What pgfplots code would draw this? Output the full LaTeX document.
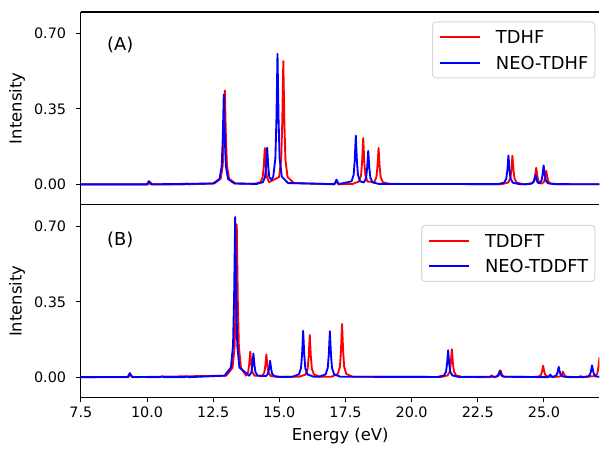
\documentclass[border=0pt]{standalone}
\usepackage{pgfplots}
\pgfplotsset{compat=1.18}
\usepackage{fontspec}
\setmainfont{DejaVu Sans}
\begin{document}
\begin{tikzpicture}
\pgfplotsset{
  myax/.style={
    scale only axis, width=389.25pt, height=144.75pt,
    xmin=7.5, xmax=27.1, ymin=-0.095, ymax=0.8,
    axis x line*=box, axis y line*=left,
    axis line style={-, line width=0.8pt, black},
    every outer x axis line/.append style={-},
    every outer y axis line/.append style={-},
    tick align=outside, xtick pos=bottom, ytick pos=left,
    major tick length=3.6pt,
    every tick/.style={black, line width=0.8pt},
    ytick={0,0.35,0.70},
    yticklabel style={font=\fontsize{10.8}{13}\selectfont, xshift=-4pt, /pgf/number format/.cd, fixed, fixed zerofill, precision=2, assume math mode=true},
    xticklabel style={font=\fontsize{10.8}{13}\selectfont, /pgf/number format/.cd, fixed, fixed zerofill, precision=1, assume math mode=true},
    ylabel={Intensity},
    every axis y label/.style={at={(axis description cs:-0.1233,0.5)}, rotate=90, anchor=center, font=\fontsize{12.3}{14}\selectfont},
    legend cell align=left,
    legend image code/.code={\draw[##1, line width=1.5pt] (0pt,0pt) -- (30pt,0pt);},
    legend style={at={(rel axis cs:1,1)}, anchor=north east, xshift=-3pt, yshift=-7pt,
      draw=black!15, line width=0.8pt, rounded corners=2.5pt, fill=white,
      font=\fontsize{13.4}{16}\selectfont, inner xsep=5pt, inner ysep=6.5pt, row sep=9.5pt,
      nodes={inner sep=0pt, text height=9.8pt, text depth=0pt},
      /tikz/every odd column/.append style={column sep=11pt}},
    every axis plot/.append style={line width=1.4pt, line join=round},
  }
}
\begin{axis}[myax, name=top, at={(0,144.75pt)}, anchor=south west, xtick=\empty]
\addplot[red] coordinates {(7.0,0) (10.04,0) (10.08,0.005) (10.12,0.010) (10.16,0.005) (10.20,0)
(11.41,0) (11.49,0.004) (11.57,0)
(12.54,0.004) (12.78,0.026) (12.86,0.087) (12.90,0.218) (12.94,0.436) (12.98,0.218) (13.02,0.087) (13.10,0.026) (13.34,0.004)
(14.05,0.002) (14.29,0.010) (14.37,0.034) (14.41,0.084) (14.45,0.168) (14.49,0.084) (14.53,0.034) (14.61,0.010)
(14.99,0.034) (15.07,0.114) (15.11,0.286) (15.15,0.572) (15.19,0.286) (15.23,0.114) (15.31,0.034) (15.55,0.006)
(17.08,0) (17.12,0.007) (17.16,0.015) (17.20,0.007) (17.24,0)
(17.77,0.002) (18.01,0.013) (18.09,0.043) (18.13,0.108) (18.17,0.215) (18.21,0.108) (18.25,0.043) (18.33,0.013)
(18.59,0.010) (18.67,0.034) (18.71,0.085) (18.75,0.169) (18.79,0.085) (18.83,0.034) (18.91,0.010) (19.15,0.002)
(23.41,0.001) (23.65,0.008) (23.73,0.027) (23.77,0.067) (23.81,0.133) (23.85,0.067) (23.89,0.027) (23.97,0.008) (24.21,0.001)
(24.31,0.001) (24.55,0.005) (24.63,0.015) (24.67,0.039) (24.71,0.077) (24.75,0.039) (24.79,0.015) (24.87,0.005)
(24.93,0.004) (25.01,0.013) (25.05,0.032) (25.09,0.063) (25.13,0.032) (25.17,0.013) (25.25,0.004) (25.49,0.001)
(27.5,0)};
\addlegendentry{TDHF}
\addplot[blue] coordinates {(7.0,0) (9.99,0) (10.03,0.007) (10.07,0.015) (10.11,0.007) (10.15,0)
(12.50,0.004) (12.74,0.025) (12.82,0.083) (12.86,0.209) (12.90,0.417) (12.94,0.209) (12.98,0.083) (13.06,0.025) (13.30,0.004)
(14.14,0.002) (14.38,0.010) (14.46,0.034) (14.50,0.085) (14.54,0.170) (14.58,0.085) (14.62,0.034) (14.70,0.020)
(14.77,0.036) (14.85,0.121) (14.89,0.303) (14.93,0.606) (14.97,0.303) (15.01,0.121) (15.09,0.036) (15.33,0.006)
(17.08,0.001) (17.12,0.011) (17.16,0.022) (17.20,0.011) (17.24,0.001)
(17.73,0.014) (17.81,0.045) (17.85,0.113) (17.89,0.226) (17.93,0.113) (17.97,0.045) (18.05,0.014)
(18.20,0.009) (18.28,0.031) (18.32,0.078) (18.36,0.155) (18.40,0.078) (18.44,0.031) (18.52,0.009) (18.76,0.002)
(23.26,0.001) (23.50,0.008) (23.58,0.027) (23.62,0.067) (23.66,0.134) (23.70,0.067) (23.74,0.027) (23.82,0.008) (24.06,0.001)
(24.28,0) (24.52,0.003) (24.60,0.009) (24.64,0.023) (24.68,0.045) (24.72,0.023) (24.76,0.009)
(24.83,0.005) (24.91,0.018) (24.95,0.044) (24.99,0.088) (25.03,0.044) (25.07,0.018) (25.15,0.005) (25.39,0.001)
(27.5,0)};
\addlegendentry{NEO-TDHF}
\end{axis}
\node[anchor=west, font=\fontsize{13.4}{16}\selectfont, inner sep=0pt] at ([xshift=19.5pt,yshift=-24.75pt]top.north west) {(A)};
\begin{axis}[myax, name=bot, at={(0,0)}, anchor=south west,
  xtick={7.5,10,12.5,15,17.5,20,22.5,25},
  xlabel={Energy (eV)},
  every axis x label/.style={at={(axis description cs:0.5,0)}, anchor=base, yshift=-32.25pt, font=\fontsize{12.3}{14}\selectfont},
  legend style={yshift=-8pt}]
\addplot[red] coordinates {(7.0,0) (9.29,0) (9.33,0.006) (9.37,0.012) (9.41,0.006) (9.45,0)
(12.99,0.007) (13.23,0.043) (13.31,0.142) (13.35,0.355) (13.39,0.709) (13.43,0.355) (13.47,0.142) (13.55,0.043)
(13.74,0.007) (13.82,0.024) (13.86,0.060) (13.90,0.119) (13.94,0.060) (13.98,0.024) (14.06,0.007)
(14.35,0.006) (14.43,0.021) (14.47,0.053) (14.51,0.105) (14.55,0.053) (14.59,0.021) (14.67,0.006) (14.91,0.001)
(15.75,0.002) (15.99,0.012) (16.07,0.039) (16.11,0.098) (16.15,0.196) (16.19,0.098) (16.23,0.039) (16.31,0.012) (16.55,0.002)
(16.97,0.002) (17.21,0.015) (17.29,0.049) (17.33,0.124) (17.37,0.247) (17.41,0.124) (17.45,0.049) (17.53,0.015) (17.77,0.002)
(21.12,0.001) (21.36,0.008) (21.44,0.026) (21.48,0.065) (21.52,0.130) (21.56,0.065) (21.60,0.026) (21.68,0.008) (21.92,0.001)
(22.95,0) (23.03,0.009) (23.11,0)
(23.20,0.002) (23.28,0.006) (23.32,0.016) (23.36,0.032) (23.40,0.016) (23.44,0.006) (23.52,0.002)
(24.57,0.001) (24.81,0.003) (24.89,0.011) (24.93,0.027) (24.97,0.053) (25.01,0.027) (25.05,0.011) (25.13,0.003)
(25.56,0.002) (25.64,0.005) (25.68,0.013) (25.72,0.026) (25.76,0.013) (25.80,0.005) (25.88,0.002)
(26.30,0) (26.38,0.005) (26.46,0)
(26.94,0.005) (27.02,0.018) (27.06,0.045) (27.10,0.090) (27.14,0.045) (27.18,0.018) (27.26,0.005)
(27.5,0)};
\addlegendentry{TDDFT}
\addplot[blue] coordinates {(7.0,0) (9.27,0.001) (9.31,0.010) (9.35,0.019) (9.39,0.010) (9.43,0.001)
(10.49,0) (10.57,0.004) (10.65,0)
(11.41,0) (11.49,0.003) (11.57,0)
(12.93,0.007) (13.17,0.045) (13.25,0.149) (13.29,0.372) (13.33,0.743) (13.37,0.372) (13.41,0.149) (13.49,0.045)
(13.86,0.007) (13.94,0.022) (13.98,0.055) (14.02,0.110) (14.06,0.055) (14.10,0.022) (14.18,0.007)
(14.49,0.005) (14.57,0.015) (14.61,0.038) (14.65,0.076) (14.69,0.038) (14.73,0.015) (14.81,0.005) (15.05,0.001)
(15.50,0.002) (15.74,0.013) (15.82,0.043) (15.86,0.108) (15.90,0.215) (15.94,0.108) (15.98,0.043) (16.06,0.013) (16.30,0.002)
(16.51,0.002) (16.75,0.013) (16.83,0.043) (16.87,0.107) (16.91,0.213) (16.95,0.107) (16.99,0.043) (17.07,0.013) (17.31,0.002)
(20.98,0.001) (21.22,0.008) (21.30,0.025) (21.34,0.063) (21.38,0.125) (21.42,0.063) (21.46,0.025) (21.54,0.008) (21.78,0.001)
(23.17,0.002) (23.25,0.006) (23.29,0.015) (23.33,0.029) (23.37,0.015) (23.41,0.006) (23.49,0.002)
(25.16,0) (25.20,0.006) (25.24,0.012) (25.28,0.006) (25.32,0)
(25.40,0.003) (25.48,0.010) (25.52,0.024) (25.56,0.048) (25.60,0.024) (25.64,0.010) (25.72,0.003) (25.96,0)
(26.42,0.001) (26.66,0.003) (26.74,0.011) (26.78,0.028) (26.82,0.055) (26.86,0.028) (26.90,0.011) (26.98,0.003) (27.22,0.001)
(27.5,0)};
\addlegendentry{NEO-TDDFT}
\end{axis}
\node[anchor=west, font=\fontsize{13.4}{16}\selectfont, inner sep=0pt] at ([xshift=19.5pt,yshift=-26pt]bot.north west) {(B)};
\path[use as bounding box] (-60.75pt,-38.25pt) rectangle (389.25pt,298.5pt);
\end{tikzpicture}
\end{document}
